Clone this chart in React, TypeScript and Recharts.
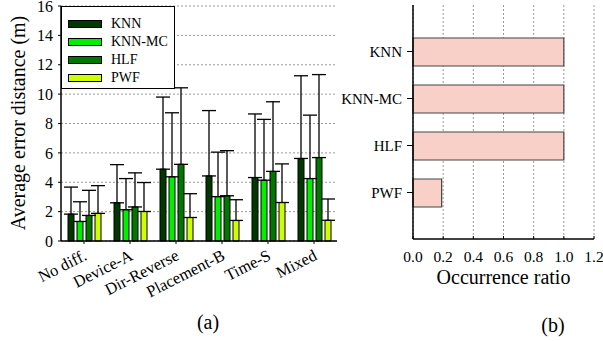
import React from "react";
import {
  BarChart,
  Bar,
  XAxis,
  YAxis,
  CartesianGrid,
  ErrorBar,
  Legend,
  Label,
} from "recharts";

const categories = ["No diff.", "Device-A", "Dir-Reverse", "Placement-B", "Time-S", "Mixed"];
const knn = [1.83, 2.6, 4.89, 4.43, 4.32, 5.62];
const knnTop = [3.67, 5.2, 9.8, 8.88, 8.65, 11.25];
const knnMc = [1.33, 2.13, 4.37, 3.02, 4.14, 4.25];
const knnMcTop = [2.67, 4.25, 8.73, 6.05, 8.28, 8.57];
const hlf = [1.74, 2.32, 5.22, 3.08, 4.74, 5.68];
const hlfTop = [3.45, 4.64, 10.43, 6.15, 9.48, 11.33];
const pwf = [1.88, 2.01, 1.6, 1.4, 2.62, 1.41];
const pwfTop = [3.77, 3.98, 3.22, 2.81, 5.25, 2.86];
const yTicks = [0, 2, 4, 6, 8, 10, 12, 14, 16];

const methods = ["KNN", "KNN-MC", "HLF", "PWF"];
const occurrence = [1.0, 1.0, 1.0, 0.19];
const ratioTicks = [0, 0.2, 0.4, 0.6, 0.8, 1.0, 1.2];

const seriesKeys = ["knn", "knnMc", "hlf", "pwf"];
const seriesNames = ["KNN", "KNN-MC", "HLF", "PWF"];
const seriesColors = ["#003800", "#00f000", "#007800", "#ccff00"];

const leftData = categories.map((c, i) => ({
  name: c,
  knn: knn[i],
  knnErr: [0, knnTop[i] - knn[i]],
  knnMc: knnMc[i],
  knnMcErr: [0, knnMcTop[i] - knnMc[i]],
  hlf: hlf[i],
  hlfErr: [0, hlfTop[i] - hlf[i]],
  pwf: pwf[i],
  pwfErr: [0, pwfTop[i] - pwf[i]],
}));

const rightData = methods.map((m, i) => ({ name: m, value: occurrence[i] }));

const FONT = "'Liberation Serif', 'Times New Roman', serif";

const LegendBox = () => (
  <div
    style={{
      width: 114,
      height: 83,
      border: "1px solid #000",
      background: "#fff",
      boxSizing: "border-box",
      fontFamily: FONT,
      fontSize: 14,
      position: "relative",
    }}
  >
    {seriesNames.map((n, i) => (
      <div key={n} style={{ position: "absolute", left: 6, top: 10 + i * 18, display: "flex", alignItems: "center" }}>
        <div style={{ width: 32, height: 6, background: seriesColors[i], border: "1px solid #000" }} />
        <span style={{ marginLeft: 9, lineHeight: "14px" }}>{n}</span>
      </div>
    ))}
  </div>
);

const XTick = (props: any) => {
  const { x, y, payload } = props;
  return (
    <g transform={`translate(${x + 4},${y + 13})`}>
      <text
        x={0}
        y={0}
        textAnchor="end"
        transform="rotate(-27)"
        fontFamily={FONT}
        fontSize={16.5}
        fill="#000"
      >
        {payload.value}
      </text>
    </g>
  );
};

export default function App() {
  return (
    <div style={{ position: "absolute", left: 0, top: 0, width: 603, height: 341, background: "#fff" }}>
      <div style={{ position: "absolute", left: 0, top: 0 }}>
        <BarChart
          width={345}
          height={341}
          data={leftData}
          margin={{ top: 6, right: 8, left: 21, bottom: 0 }}
          barSize={6}
          barGap={3}
        >
          <CartesianGrid vertical={false} stroke="#999" strokeDasharray="2 2" />
          <XAxis
            dataKey="name"
            height={100}
            interval={0}
            tick={<XTick />}
            tickSize={3}
            axisLine={{ stroke: "#000", strokeWidth: 1.5 }}
            tickLine={{ stroke: "#000" }}
          />
          <XAxis xAxisId="top" orientation="top" dataKey="name" height={0} tick={false} tickLine={false} axisLine={{ stroke: "#000" }} />
          <YAxis
            width={40}
            domain={[0, 16]}
            ticks={yTicks}
            interval={0}
            tickSize={3}
            tickMargin={5}
            tick={{ fontFamily: FONT, fontSize: 16, fill: "#000" }}
            axisLine={{ stroke: "#000", strokeWidth: 1.5 }}
            tickLine={{ stroke: "#000" }}
          >
            <Label
              content={() => (
                <text
                  x={18}
                  y={123}
                  transform="rotate(-90, 18, 123)"
                  textAnchor="middle"
                  dominantBaseline="central"
                  fontFamily={FONT}
                  fontSize={20}
                  fill="#000"
                >
                  Average error distance (m)
                </text>
              )}
            />
          </YAxis>
          <YAxis yAxisId="right" orientation="right" width={0} domain={[0, 16]} tick={false} tickLine={false} axisLine={{ stroke: "#000" }} />
          <Legend
            content={() => <LegendBox />}
            layout="vertical"
            verticalAlign="middle"
            align="center"
            wrapperStyle={{ position: "absolute", left: 61, top: 6, width: 114, height: 83 }}
          />
          {seriesKeys.map((k, i) => (
            <Bar
              key={k}
              dataKey={k}
              name={seriesNames[i]}
              fill={seriesColors[i]}
              stroke="#000"
              strokeWidth={1}
              isAnimationActive={false}
            >
              <ErrorBar dataKey={`${k}Err`} width={7} stroke="#000" strokeWidth={1.3} direction="y" />
            </Bar>
          ))}
        </BarChart>
      </div>
      <div style={{ position: "absolute", left: 335, top: 0 }}>
        <BarChart
          width={268}
          height={341}
          data={rightData}
          layout="vertical"
          margin={{ top: 5, right: 9, left: 18, bottom: 72 }}
          barSize={28}
        >
          <CartesianGrid horizontal={false} stroke="#999" strokeDasharray="2 2" />
          <XAxis
            type="number"
            domain={[0, 1.2]}
            ticks={ratioTicks}
            interval={0}
            height={30}
            tickSize={-3}
            tickMargin={15}
            tickFormatter={(v: number) => v.toFixed(1)}
            tick={{ fontFamily: FONT, fontSize: 15.5, fill: "#000" }}
            axisLine={{ stroke: "#000", strokeWidth: 1.5 }}
            tickLine={{ stroke: "#000" }}
          >
            <Label
              content={() => (
                <text x={168.5} y={277} textAnchor="middle" dominantBaseline="central" fontFamily={FONT} fontSize={20} fill="#000">
                  Occurrence ratio
                </text>
              )}
            />
          </XAxis>
          <XAxis xAxisId="top" type="number" orientation="top" domain={[0, 1.2]} height={0} tick={false} tickLine={false} axisLine={{ stroke: "#000" }} />
          <YAxis
            type="category"
            dataKey="name"
            width={60}
            padding={{ top: 23, bottom: 23 }}
            tickSize={6}
            tickMargin={5}
            tick={{ fontFamily: FONT, fontSize: 15, fill: "#000" }}
            axisLine={{ stroke: "#000", strokeWidth: 1.5 }}
            tickLine={{ stroke: "#000" }}
          />
          <YAxis yAxisId="right" type="category" dataKey="name" orientation="right" width={0} tick={false} tickLine={false} axisLine={{ stroke: "#000" }} />
          <Bar dataKey="value" fill="#f9d0c8" stroke="#444" strokeWidth={1.2} isAnimationActive={false} />
        </BarChart>
      </div>
      <div style={{ position: "absolute", left: 188, top: 309, width: 40, textAlign: "center", fontFamily: FONT, fontSize: 20, lineHeight: "26px" }}>(a)</div>
      <div style={{ position: "absolute", left: 533, top: 312, width: 40, textAlign: "center", fontFamily: FONT, fontSize: 20, lineHeight: "26px" }}>(b)</div>
    </div>
  );
}
